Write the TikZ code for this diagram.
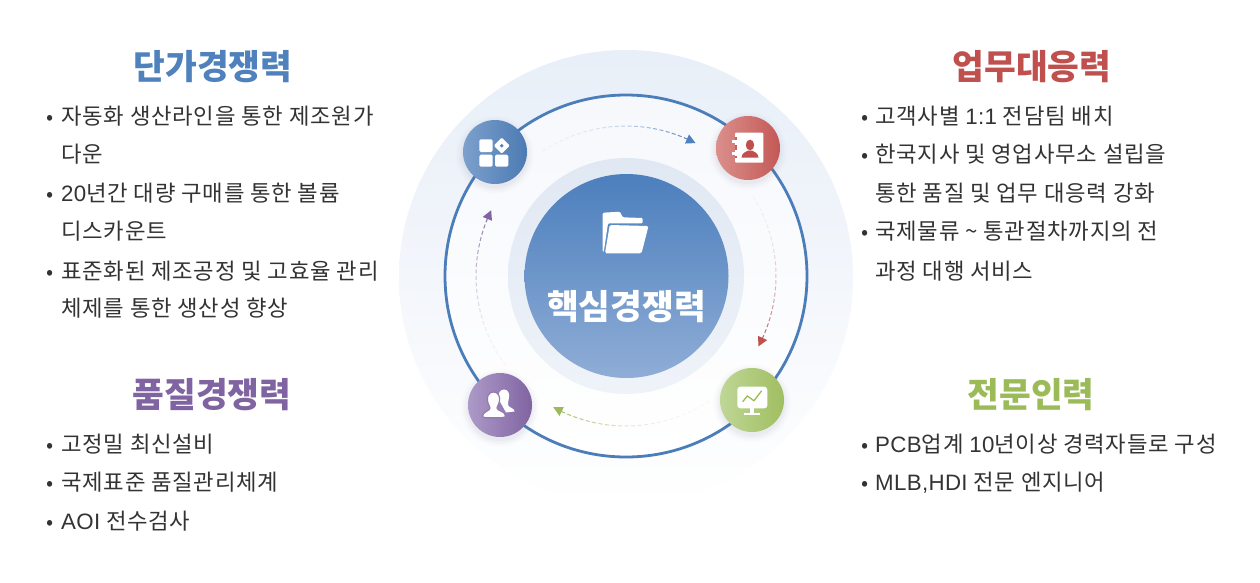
\documentclass[tikz,border=0pt]{standalone}
\usepackage{fontspec}
\setmainfont{Noto Sans CJK KR}
\newfontfamily\bodyfont[LetterSpace=3.5]{Noto Sans CJK KR}
\newfontfamily\latinfont[LetterSpace=1.5]{Liberation Sans}
\newcommand{\lat}[1]{{\latinfont #1}}
\usetikzlibrary{calc}
\definecolor{tblue}{HTML}{4F81BD}
\definecolor{tred}{HTML}{C0504D}
\definecolor{tpurple}{HTML}{8064A2}
\definecolor{tgreen}{HTML}{9BBB59}
\definecolor{txt}{HTML}{333333}
\definecolor{E8}{HTML}{E8EFF8}
\definecolor{F4}{HTML}{F3F6FB}
\definecolor{F6}{HTML}{F6F8FC}
\definecolor{ringc}{HTML}{4A7DB9}
\definecolor{H1}{HTML}{E0E8F3}
\definecolor{H2}{HTML}{EFF3F9}
\definecolor{C1}{HTML}{4C7FBD}
\definecolor{C2}{HTML}{8FADD6}
\definecolor{B2}{HTML}{7DA0CC}
\definecolor{R2}{HTML}{DB8F8B}
\definecolor{G2}{HTML}{BFD696}
\definecolor{P2}{HTML}{AD9AC8}
\definecolor{shadowc}{HTML}{5A6C90}
\tikzset{
  x=1pt,y=-1pt,
  titletext/.style={font=\fontsize{34.5}{38}\selectfont\bfseries,inner sep=0pt,anchor=center},
  bodytext/.style={font=\bodyfont\fontsize{22.3}{25}\selectfont,text=txt,inner sep=0pt,anchor=base west},
  dotmark/.style={font=\fontsize{21}{24}\selectfont,text=txt,inner sep=0pt,anchor=base west},
  bub/.style={circle,minimum size=64pt,inner sep=0pt,shading angle=-60},
  wfill/.style={fill=white,draw=none},
}
\newcommand{\shadowat}[2]{%
  \foreach \rr/\oo in {39/.012,37.5/.016,36/.02,34.5/.024,33/.03}{\fill[shadowc,opacity=\oo] (#1,#2+3) circle[radius=\rr];}}
\newcommand{\dasharc}[4]{% start, end, colour, n
  \foreach \i in {0,...,#4}{%
    \pgfmathsetmacro\aa{#1+(#2-#1)*\i/(#4+1)}%
    \pgfmathsetmacro\bb{\aa+(#2-#1)*.62/(#4+1)}%
    \pgfmathsetmacro\oo{0.06+0.94*(\i/#4)^2}%
    \draw[#3,line width=1pt,opacity=\oo] ({626+150*cos(\aa)},{276-150*sin(\aa)}) -- ({626+150*cos(\bb)},{276-150*sin(\bb)});
  }%
  \pgfmathsetmacro\sg{(#2>#1)?-1:1}%
  \pgfmathsetmacro\ba{#2+\sg*3.6}%
  \fill[#3] ({626+150*cos(#2)},{276-150*sin(#2)}) -- ({626+155*cos(\ba)},{276-155*sin(\ba)}) -- ({626+145*cos(\ba)},{276-145*sin(\ba)}) -- cycle;
}
\begin{document}
\begin{tikzpicture}
\useasboundingbox (0,0) rectangle (1260,582);
\fill[white] (0,0) rectangle (1260,582);
% discs
\shade[top color=E8,bottom color=white,middle color=F4] (626,277) circle[radius=227];
\shade[top color=F6,bottom color=white] (626,276) circle[radius=181];
\draw[color=ringc,line width=2.8pt] (626,276) circle[radius=181];
\shade[top color=H1,bottom color=H2] (626,276) circle[radius=118];
\node[circle,minimum size=204pt,inner sep=0pt,top color=C1,bottom color=C2] (core) at (626.5,276) {};
% dashed arcs
\dasharc{123.7}{62.4}{tblue}{24}
\dasharc{32}{-28}{tred}{24}
\dasharc{-56.5}{-119}{tgreen}{24}
\dasharc{216.5}{154}{tpurple}{24}
% bubbles
\shadowat{495}{152}\shadowat{748}{148}\shadowat{752}{400}\shadowat{500}{405}
\node[bub,left color=B2,right color=tblue!95!black] (nblue) at (495,152) {};
\node[bub,left color=R2,right color=tred!95!white] (nred) at (748,148) {};
\node[bub,left color=G2,right color=tgreen!95!white] (ngreen) at (752,400) {};
\node[bub,left color=P2,right color=tpurple] (npurple) at (500,405) {};
% centre folder
\fill[wfill,rounded corners=1.2pt] (602.7,212.7) -- (620,211.7) -- (622.7,217.3) -- (642.7,218) -- (642.7,223.3) -- (608,223.3) -- (603.8,251.7) -- (602.7,251.7) -- cycle;
\fill[white,rounded corners=1.5pt] (609.7,225) -- (648.5,226) -- (641.5,253.3) -- (605,253.3) -- cycle;
\node[titletext,text=white] (corelabel) at (626.5,307) {핵심경쟁력};
% blue icon
\fill[wfill,rounded corners=1.5pt] (479.3,139.3) rectangle (492.7,152);
\fill[wfill,rounded corners=1.5pt] (479.3,154.7) rectangle (492.7,166.7);
\fill[wfill,rounded corners=1.5pt] (495,154.7) rectangle (508.3,166.7);
\fill[wfill,rounded corners=1.2pt] (501.7,137.5) -- (509.7,145.7) -- (501.7,153.7) -- (493.7,145.7) -- cycle;
\fill[tblue] (501.7,145.7) circle[radius=1.9];
% red icon
\fill[wfill,rounded corners=1pt] (735,132.7) rectangle (763.3,162.7);
\fill[wfill] (732,140) rectangle (738,143);
\fill[wfill] (732,151.5) rectangle (738,154.5);
\fill[tred!90!white] (735,137) rectangle (737,139.5);
\fill[tred!90!white] (735,144.5) rectangle (737,150);
\fill[tred!90!white] (735,156) rectangle (737,158);
\fill[tred] (750,145) ellipse[x radius=4.2,y radius=5.4];
\fill[tred] (741.5,157.5) .. controls (742,152.5) and (746,152) .. (748,150.5) -- (752,150.5) .. controls (754,152) and (758,152.5) .. (758.5,157.5) -- cycle;
% green icon
\fill[wfill,rounded corners=3pt] (737.3,386.7) rectangle (767.3,408.3);
\fill[wfill] (750,408) rectangle (754,414);
\fill[wfill] (744,413.3) rectangle (760,415);
\draw[tgreen,line width=1.3pt] (742.7,401.7) -- (747.3,396) -- (754,400.7) -- (761.7,390.7);
% purple icon
\fill[wfill] (504,389.5) .. controls (508,389.5) and (509.5,393) .. (509,397) .. controls (508.5,402) and (507.5,403) .. (508,405) .. controls (509,408) and (514.5,408) .. (514.5,411.5) -- (506,412.5) -- (498,398) .. controls (498.5,393) and (500,389.5) .. (504,389.5) -- cycle;
\fill[wfill,draw=tpurple!85!white,line width=1.2pt] (493.5,392) .. controls (498.5,392) and (500,396.5) .. (499.5,400.5) .. controls (499,405) and (497,406) .. (497,408) .. controls (497,411) and (505.5,411) .. (505.5,416) .. controls (505.5,418) and (500,417.8) .. (493.5,417.8) .. controls (487,417.8) and (482,418) .. (482.5,416) .. controls (483,411.5) and (490,411) .. (490,408) .. controls (490,406) and (488,405) .. (487.5,400.5) .. controls (487,396.5) and (488.5,392) .. (493.5,392) -- cycle;
% titles
\node[titletext,text=tblue] (t1) at (213,67) {단가경쟁력};
\node[titletext,text=tred] (t2) at (1032,67) {업무대응력};
\node[titletext,text=tpurple] (t3) at (212,395) {품질경쟁력};
\node[titletext,text=tgreen] (t4) at (1031,395) {전문인력};
% left text
\foreach \n/\y/\t in {a1/124/자동화 생산라인을 통한 제조원가,a2/162/다운,a3/201/{\lat{20}년간 대량 구매를 통한 볼륨},a4/239/디스카운트,a5/279/표준화된 제조공정 및 고효율 관리,a6/316/체제를 통한 생산성 향상,c1/452/고정밀 최신설비,c2/490/국제표준 품질관리체계,c3/529/{\lat{AOI} 전수검사}}
  {\node[bodytext] (\n) at (61,\y) {\t};}
\foreach \n/\y/\t in {b1/124/{고객사별 \lat{1:1} 전담팀 배치},b2/162/한국지사 및 영업사무소 설립을,b3/201/통한 품질 및 업무 대응력 강화,b4/239/국제물류 \textasciitilde{} 통관절차까지의 전,b5/279/과정 대행 서비스,d1/452/{\lat{PCB}업계 \lat{10}년이상 경력자들로 구성},d2/490/{\lat{MLB,HDI} 전문 엔지니어}}
  {\node[bodytext] (\n) at (875,\y) {\t};}
% bullets
\foreach \n/\y in {p1/124,p2/201,p3/279,p4/452,p5/490,p6/529}{\node[dotmark] (\n) at (46.5,\y) {•};}
\foreach \n/\y in {q1/124,q2/162,q3/239,q4/452,q5/490}{\node[dotmark] (\n) at (861.5,\y) {•};}
\end{tikzpicture}
\end{document}
